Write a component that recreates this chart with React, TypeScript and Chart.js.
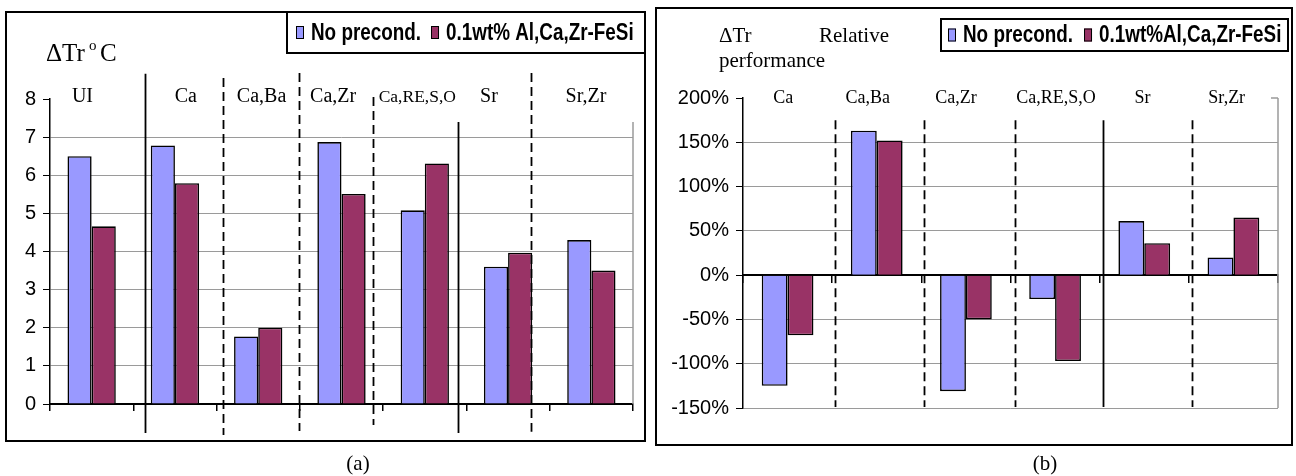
import React, { useEffect, useRef } from 'react';
import { Chart, registerables } from 'chart.js';

Chart.register(...registerables);

// ---------- data ----------
const categoriesA = ['UI', 'Ca', 'Ca,Ba', 'Ca,Zr', 'Ca,RE,S,O', 'Sr', 'Sr,Zr'];
const noPrecondA = [6.5, 6.78, 1.77, 6.87, 5.08, 3.6, 4.3];
const alCaZrA = [4.66, 5.79, 2.0, 5.51, 6.31, 3.97, 3.5];
const yTicksA = [0, 1, 2, 3, 4, 5, 6, 7, 8];
const seriesNamesA = ['No precond.', '0.1wt% Al,Ca,Zr-FeSi'];

const categoriesB = ['Ca', 'Ca,Ba', 'Ca,Zr', 'Ca,RE,S,O', 'Sr', 'Sr,Zr'];
const noPrecondB = [-125, 163, -131, -27, 61, 20];
const alCaZrB = [-68, 152, -50, -97, 36, 65];
const yTicksB = [-150, -100, -50, 0, 50, 100, 150, 200];
const seriesNamesB = ['No precond.', '0.1wt%Al,Ca,Zr-FeSi'];

const COLORS = ['#9999FF', '#993366'];

// ---------- layout / style ----------
type Sep = { at: number; dashed: boolean; top: number; bottom: number };
type Run = { text: string; x: number; y: number; size: number };

const panelA = {
  canvasLeft: 0,
  canvasW: 650,
  canvasH: 476,
  area: { left: 50, top: 99, right: 633, bottom: 404 },
  categories: categoriesA,
  series: [noPrecondA, alCaZrA],
  names: seriesNamesA,
  yTicks: yTicksA,
  unit: '',
  xAtZero: false,
  labelShift: [-0.11, 0.13, 0.04, -0.1, -0.09, -0.23, -0.065],
  labelSizes: [20, 20, 20, 20, 17.5, 20, 20],
  labelLevel: 8.05,
  separators: [
    { at: 0.642, dashed: false, top: 8.66, bottom: -0.76 },
    { at: 1.579, dashed: true, top: 8.55, bottom: -0.81 },
    { at: 2.487, dashed: true, top: 8.68, bottom: -0.71 },
    { at: 3.382, dashed: true, top: 8.05, bottom: -0.55 },
    { at: 4.398, dashed: false, top: 7.4, bottom: -0.76 },
    { at: 5.281, dashed: true, top: 8.68, bottom: -0.73 },
  ] as Sep[],
  title: [
    { text: '\u0394Tr', x: 46, y: 61, size: 25 },
    { text: 'o', x: 89, y: 50, size: 15 },
    { text: 'C', x: 100, y: 61, size: 25 },
  ] as Run[],
  legend: { x: 287, y: 12, w: 358, h: 41, pad: 9, sqW: 8, sqH: 13, gap: 7, itemGap: 10, squeeze: 0.82, size: 23 },
  edgeFrom: 7.4,
  stub: false,
};

const panelB = {
  canvasLeft: 650,
  canvasW: 646,
  canvasH: 476,
  area: { left: 93, top: 98, right: 628, bottom: 408 },
  categories: categoriesB,
  series: [noPrecondB, alCaZrB],
  names: seriesNamesB,
  yTicks: yTicksB,
  unit: '%',
  xAtZero: true,
  labelShift: [-0.05, -0.1, -0.11, 0.01, -0.02, -0.075],
  labelSizes: [18, 18, 18, 18, 18, 18],
  labelLevel: 200,
  separators: [
    { at: 0.532, dashed: true, top: 175, bottom: -149 },
    { at: 1.535, dashed: true, top: 175, bottom: -149 },
    { at: 2.545, dashed: true, top: 175, bottom: -149 },
    { at: 3.539, dashed: false, top: 175, bottom: -149 },
    { at: 4.53, dashed: true, top: 175, bottom: -149 },
  ] as Sep[],
  title: [
    { text: '\u0394Tr', x: 69, y: 42, size: 21 },
    { text: 'Relative', x: 169, y: 42, size: 21 },
    { text: 'performance', x: 69, y: 67, size: 21 },
  ] as Run[],
  legend: { x: 291, y: 19, w: 347, h: 32, pad: 7, sqW: 8, sqH: 13, gap: 7, itemGap: 11, squeeze: 0.82, size: 23 },
  edgeFrom: 200,
  stub: true,
};

type Panel = typeof panelA;

function decorPlugin(p: Panel) {
  return {
    id: 'decor',
    afterDatasetsDraw(chart: any) {
      const ctx: CanvasRenderingContext2D = chart.ctx;
      const xs = chart.scales.x;
      const ys = chart.scales.y;
      const ca = chart.chartArea;
      ctx.save();

      // plot-area right edge (gray)
      ctx.strokeStyle = '#9a9a9a';
      ctx.lineWidth = 1.5;
      ctx.setLineDash([]);
      ctx.beginPath();
      ctx.moveTo(ca.right, ys.getPixelForValue(p.edgeFrom));
      ctx.lineTo(ca.right, ca.bottom);
      if (p.stub) {
        ctx.moveTo(ca.right - 7, ca.top);
        ctx.lineTo(ca.right, ca.top);
      }
      ctx.stroke();

      // group separators
      ctx.strokeStyle = '#000';
      ctx.lineWidth = 1.8;
      for (const s of p.separators) {
        ctx.setLineDash(s.dashed ? [9, 5] : []);
        const x = Math.round(xs.getPixelForValue(s.at)) + 0.5;
        ctx.beginPath();
        ctx.moveTo(x, ys.getPixelForValue(s.top));
        ctx.lineTo(x, ys.getPixelForValue(s.bottom));
        ctx.stroke();
      }
      ctx.setLineDash([]);

      // category labels inside the plot, at the top
      ctx.fillStyle = '#000';
      ctx.textAlign = 'center';
      ctx.textBaseline = 'middle';
      (chart.data.labels as string[]).forEach((lab, i) => {
        ctx.font = `${p.labelSizes[i]}px "Liberation Serif", "Times New Roman", serif`;
        ctx.fillText(lab, xs.getPixelForValue(i + p.labelShift[i]), ys.getPixelForValue(p.labelLevel));
      });

      // axis title text
      ctx.textAlign = 'left';
      ctx.textBaseline = 'alphabetic';
      for (const r of p.title) {
        ctx.font = `${r.size}px "Liberation Serif", "Times New Roman", serif`;
        ctx.fillText(r.text, r.x, r.y);
      }

      // legend box
      const L = p.legend;
      ctx.fillStyle = '#fff';
      ctx.fillRect(L.x, L.y, L.w, L.h);
      ctx.strokeStyle = '#000';
      ctx.lineWidth = 2;
      ctx.strokeRect(L.x, L.y, L.w, L.h);
      let x = L.x + L.pad;
      const cy = L.y + L.h / 2;
      ctx.font = `bold ${L.size}px "Liberation Sans", Arial, sans-serif`;
      chart.data.datasets.forEach((ds: any) => {
        ctx.fillStyle = ds.backgroundColor;
        ctx.fillRect(x, cy - L.sqH / 2, L.sqW, L.sqH);
        ctx.strokeStyle = '#000';
        ctx.lineWidth = 1;
        ctx.strokeRect(x + 0.5, cy - L.sqH / 2 + 0.5, L.sqW - 1, L.sqH - 1);
        x += L.sqW + L.gap;
        ctx.save();
        ctx.translate(x, cy + 1);
        ctx.scale(L.squeeze, 1);
        ctx.fillStyle = '#000';
        ctx.textBaseline = 'middle';
        ctx.fillText(ds.label, 0, 0);
        ctx.restore();
        x += ctx.measureText(ds.label).width * L.squeeze + L.itemGap;
      });

      ctx.restore();
    },
  };
}

function buildConfig(p: Panel): any {
  const yMin = p.yTicks[0];
  const yMax = p.yTicks[p.yTicks.length - 1];
  return {
    type: 'bar',
    data: {
      labels: p.categories,
      datasets: p.series.map((d, i) => ({
        label: p.names[i],
        data: d,
        backgroundColor: COLORS[i],
        borderColor: '#000',
        borderWidth: 1.6,
        categoryPercentage: 0.58,
        barPercentage: 1.0,
      })),
    },
    options: {
      animation: false,
      responsive: false,
      devicePixelRatio: 1,
      layout: {
        padding: {
          left: 0,
          top: p.area.top,
          right: p.canvasW - p.area.right,
          bottom: p.canvasH - p.area.bottom,
        },
      },
      plugins: {
        legend: { display: false },
        tooltip: { enabled: false },
        title: { display: false },
      },
      scales: {
        x: {
          type: 'category',
          position: p.xAtZero ? { y: 0 } : 'bottom',
          offset: true,
          ticks: { display: false },
          grid: {
            display: true,
            offset: true,
            drawOnChartArea: false,
            drawTicks: true,
            tickLength: 7,
            color: '#000',
            tickColor: '#000',
            lineWidth: 1.5,
          },
          border: { display: true, color: '#000', width: 2 },
          afterFit: (s: any) => {
            s.height = 0;
          },
        },
        y: {
          type: 'linear',
          min: yMin,
          max: yMax,
          afterFit: (s: any) => {
            s.width = p.area.left;
          },
          afterBuildTicks: (s: any) => {
            s.ticks = p.yTicks.map((v) => ({ value: v }));
          },
          ticks: {
            color: '#000',
            padding: 7,
            font: { family: '"Liberation Sans", Arial, sans-serif', size: 20 },
            callback: (v: any) => `${v}${p.unit}`,
          },
          grid: {
            drawTicks: true,
            tickLength: 7,
            tickColor: '#000',
            lineWidth: 1,
            color: (c: any) => (c.tick && c.tick.value === yMax ? 'rgba(0,0,0,0)' : '#9a9a9a'),
          },
          border: { display: true, color: '#000', width: 1.5 },
        },
      },
    },
    plugins: [decorPlugin(p)],
  };
}

function PanelChart({ p }: { p: Panel }) {
  const ref = useRef<HTMLCanvasElement | null>(null);
  useEffect(() => {
    if (!ref.current) return;
    const chart = new Chart(ref.current, buildConfig(p));
    return () => chart.destroy();
  }, [p]);
  return (
    <canvas
      ref={ref}
      width={p.canvasW}
      height={p.canvasH}
      style={{ position: 'absolute', left: p.canvasLeft, top: 0, width: p.canvasW, height: p.canvasH }}
    />
  );
}

const frameStyle = (left: number, top: number, width: number, height: number): React.CSSProperties => ({
  position: 'absolute',
  left,
  top,
  width,
  height,
  boxSizing: 'border-box',
  border: '2px solid #000',
});

const captionStyle = (cx: number, cy: number): React.CSSProperties => ({
  position: 'absolute',
  left: cx - 30,
  top: cy - 12,
  width: 60,
  height: 24,
  lineHeight: '24px',
  textAlign: 'center',
  fontFamily: '"Liberation Serif", "Times New Roman", serif',
  fontSize: 21,
  color: '#000',
});

export default function App() {
  return (
    <div style={{ position: 'fixed', left: 0, top: 0, width: 1296, height: 476, background: '#fff', overflow: 'hidden' }}>
      <div style={frameStyle(5, 11, 641, 431)} />
      <div style={frameStyle(655, 7, 638, 439)} />
      <PanelChart p={panelA} />
      <PanelChart p={panelB} />
      <div style={captionStyle(358, 463)}>(a)</div>
      <div style={captionStyle(1045, 463)}>(b)</div>
    </div>
  );
}
